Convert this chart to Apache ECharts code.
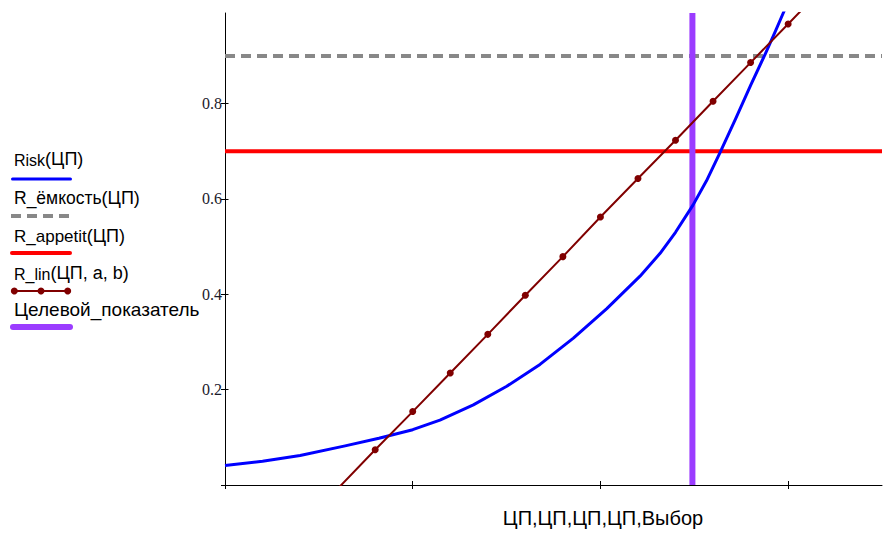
<!DOCTYPE html>
<html>
<head>
<meta charset="utf-8">
<script src="https://cdn.jsdelivr.net/npm/echarts@6/dist/echarts.min.js"></script>
<style>
  html, body { margin: 0; padding: 0; background: #ffffff; }
  #chart { width: 888px; height: 533px; }
</style>
</head>
<body>
<div id="chart"></div>
<script>
// ---- data ----
// Risk(ЦП): points
const riskX = [0, 0.2, 0.4, 0.64, 0.82, 1.0, 1.145, 1.323, 1.501, 1.678, 1.856, 2.034, 2.211, 2.318, 2.40, 2.493, 2.565, 2.637, 2.72, 2.80, 2.879, 2.93, 2.974, 3.05];
const riskY = [0.041, 0.050, 0.062, 0.082, 0.098, 0.116, 0.136, 0.168, 0.207, 0.253, 0.308, 0.370, 0.438, 0.486, 0.530, 0.587, 0.638, 0.697, 0.768, 0.838, 0.905, 0.950, 0.990, 1.06];
// R_lin(ЦП,a,b): marker points (ЦП step 0.2), outside ones clipped by the plot frame
const cp = [0.6, 0.8, 1.0, 1.2, 1.4, 1.6, 1.8, 2.0, 2.2, 2.4, 2.6, 2.8, 3.0, 3.2];
const rLin = [-0.008, 0.074, 0.154, 0.235, 0.316, 0.398, 0.479, 0.562, 0.643, 0.723, 0.805, 0.886, 0.967, 1.048];
const rCapacity = 0.9;     // R_ёмкость
const rAppetite = 0.7;     // R_appetit
const targetChoice = 2.49; // Выбор (Целевой_показатель)
const xRange = [0, 3.5];
const yRange = [0, 0.99];
const yTickValues = [0, 0.2, 0.4, 0.6, 0.8];
const yLabelValues = [0.2, 0.4, 0.6, 0.8];
const xTickValues = [0, 1, 2, 3];
const xAxisTitle = 'ЦП,ЦП,ЦП,ЦП,Выбор';
const legendNames = [
  ['Risk', '(ЦП)'],
  ['R_ёмкость', '(ЦП)'],
  ['R_appetit', '(ЦП)'],
  ['R_lin', '(ЦП, a, b)'],
  ['Целевой_показатель', '']
];

// ---- build series data ----
const riskData = riskX.map((x, i) => [x, riskY[i]]);
const linData = cp.map((x, i) => [x, rLin[i]]);
const capData = [[xRange[0], rCapacity], [xRange[1], rCapacity]];
const appData = [[xRange[0], rAppetite], [xRange[1], rAppetite]];
const targetData = [[targetChoice, yRange[0]], [targetChoice, yRange[1]]];

const GRID = { left: 225, top: 13, right: 6, bottom: 35 };

const SANS = '"Liberation Sans", Arial, sans-serif';
const SERIF = '"Liberation Serif", "Times New Roman", serif';

const C_BLUE = '#0000ff', C_GRAY = '#888888', C_RED = '#ff0000', C_LIN = '#800000', C_PURPLE = '#9b3cff';

const chart = echarts.init(document.getElementById('chart'), null, { renderer: 'svg' });

// legend drawn as graphics (text above a line sample, as in the reference)
const legendY = [161, 200, 238, 275, 311];
const sampleY = [179, 216, 253, 291, 327];
const nameSizes = [16, 17.5, 17, 16, 19];
const graphic = [];
legendNames.forEach((pair, i) => {
  graphic.push({
    type: 'text', left: 14, top: legendY[i] - 11,
    style: {
      text: '{n|' + pair[0] + '}' + (pair[1] ? '{p|' + pair[1] + '}' : ''),
      rich: {
        n: { fontFamily: SANS, fontSize: nameSizes[i], fill: '#000', verticalAlign: 'bottom', lineHeight: 22 },
        p: { fontFamily: SANS, fontSize: 18, fill: '#000', verticalAlign: 'bottom', lineHeight: 22 }
      }
    }
  });
});
graphic.push(
  { type: 'line', shape: { x1: 12.5, y1: sampleY[0], x2: 70.5, y2: sampleY[0] }, style: { stroke: C_BLUE, lineWidth: 3, lineCap: 'round' } },
  { type: 'line', shape: { x1: 11, y1: sampleY[1], x2: 71, y2: sampleY[1] }, style: { stroke: C_GRAY, lineWidth: 4, lineDash: [10, 6] } },
  { type: 'line', shape: { x1: 12, y1: sampleY[2], x2: 70, y2: sampleY[2] }, style: { stroke: C_RED, lineWidth: 4, lineCap: 'round' } },
  { type: 'line', shape: { x1: 14, y1: sampleY[3], x2: 68, y2: sampleY[3] }, style: { stroke: C_LIN, lineWidth: 2 } },
  { type: 'circle', shape: { cx: 14.3, cy: sampleY[3], r: 3.5 }, style: { fill: C_LIN } },
  { type: 'circle', shape: { cx: 41, cy: sampleY[3], r: 3.5 }, style: { fill: C_LIN } },
  { type: 'circle', shape: { cx: 67.7, cy: sampleY[3], r: 3.5 }, style: { fill: C_LIN } },
  { type: 'line', shape: { x1: 13, y1: sampleY[4], x2: 70, y2: sampleY[4] }, style: { stroke: C_PURPLE, lineWidth: 6, lineCap: 'round' } }
);

const option = {
  animation: false,
  backgroundColor: '#ffffff',
  grid: GRID,
  graphic: graphic,
  xAxis: [{
    type: 'value', min: xRange[0], max: xRange[1], position: 'bottom',
    splitLine: { show: false },
    axisLine: { show: true, onZero: false, lineStyle: { color: '#000', width: 1 } },
    axisTick: { show: true, inside: false, length: 4, customValues: xTickValues, lineStyle: { color: '#000' } },
    axisLabel: { show: false },
    name: xAxisTitle, nameLocation: 'middle', nameGap: 23,
    nameTextStyle: { fontFamily: SANS, fontSize: 20, color: '#000', padding: [0, 0, 0, 99] }
  }, {
    // mirror axis placed on y = 0 so that ticks also cross to the inside
    type: 'value', min: xRange[0], max: xRange[1], position: 'top',
    splitLine: { show: false },
    axisLine: { show: true, onZero: true, onZeroAxisIndex: 0, lineStyle: { opacity: 0 } },
    axisTick: { show: true, inside: false, length: 4, customValues: xTickValues.slice(1), lineStyle: { color: '#000' } },
    axisLabel: { show: false }
  }],
  yAxis: [{
    type: 'value', min: yRange[0], max: yRange[1], position: 'left',
    splitLine: { show: false },
    axisLine: { show: true, onZero: false, lineStyle: { color: '#000', width: 1 } },
    axisTick: { show: true, inside: false, length: 4, customValues: yTickValues, lineStyle: { color: '#000' } },
    axisLabel: { show: true, customValues: yLabelValues, margin: 3, fontFamily: SERIF, fontSize: 16, color: '#1a1a2a' }
  }, {
    type: 'value', min: yRange[0], max: yRange[1], position: 'right',
    splitLine: { show: false },
    axisLine: { show: true, onZero: true, onZeroAxisIndex: 0, lineStyle: { opacity: 0 } },
    axisTick: { show: true, inside: false, length: 3.5, customValues: yLabelValues, lineStyle: { color: '#000' } },
    axisLabel: { show: false }
  }],
  series: [
    { name: 'R_ёмкость(ЦП)', type: 'line', data: capData, showSymbol: false, symbol: 'none',
      lineStyle: { color: C_GRAY, width: 4, type: [10, 6] }, silent: true },
    { name: 'R_appetit(ЦП)', type: 'line', data: appData, showSymbol: false, symbol: 'none',
      lineStyle: { color: C_RED, width: 4 }, silent: true },
    { name: 'Целевой_показатель', type: 'line', data: targetData, showSymbol: false, symbol: 'none',
      lineStyle: { color: C_PURPLE, width: 6 }, silent: true },
    { name: 'Risk(ЦП)', type: 'line', data: riskData, showSymbol: false, symbol: 'none',
      lineStyle: { color: C_BLUE, width: 3, join: 'round' }, silent: true },
    { name: 'R_lin(ЦП,a,b)', type: 'line', data: linData, symbol: 'circle', symbolSize: 7, showSymbol: true,
      itemStyle: { color: C_LIN }, lineStyle: { color: C_LIN, width: 2 }, silent: true }
  ]
};
chart.setOption(option);
</script>
</body>
</html>
